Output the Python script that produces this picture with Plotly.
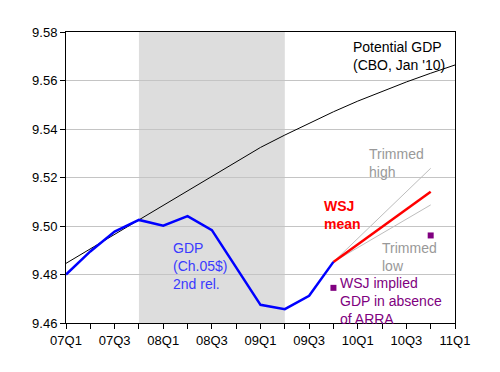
import plotly.graph_objects as go

quarters = ["07Q1","07Q2","07Q3","07Q4","08Q1","08Q2","08Q3","08Q4",
            "09Q1","09Q2","09Q3","09Q4","10Q1","10Q2","10Q3","10Q4","11Q1"]
tick_labels = ["07Q1","07Q3","08Q1","08Q3","09Q1","09Q3","10Q1","10Q3","11Q1"]

potential_gdp = [9.4846, 9.4906, 9.4966, 9.5026, 9.5086, 9.5146, 9.5206, 9.5266,
                 9.5324, 9.5375, 9.5424, 9.5471, 9.5515, 9.5555, 9.5594, 9.5630, 9.5664]
gdp = [9.4800, 9.4895, 9.4977, 9.5025, 9.5001, 9.5041, 9.4983, 9.4828,
       9.4675, 9.4657, 9.4712, 9.4852]
fc_quarters = ["09Q4","10Q1","10Q2","10Q3","10Q4"]
wsj_mean = [9.4852, 9.4924, 9.4996, 9.5069, 9.5141]
trim_high = [9.4852, 9.4949, 9.5045, 9.5142, 9.5238]
trim_low = [9.4852, 9.4911, 9.4970, 9.5028, 9.5087]
noarra_quarters = ["09Q4","10Q4"]
wsj_noarra = [9.4745, 9.4961]
recession = ["07Q4","09Q2"]

idx = {q: i for i, q in enumerate(quarters)}

fig = go.Figure()
fig.add_trace(go.Scatter(x=[idx[q] for q in quarters], y=potential_gdp, mode="lines",
                         line=dict(color="black", width=1)))
fig.add_trace(go.Scatter(x=[idx[q] for q in fc_quarters], y=trim_high, mode="lines",
                         line=dict(color="#bdbdbd", width=1)))
fig.add_trace(go.Scatter(x=[idx[q] for q in fc_quarters], y=trim_low, mode="lines",
                         line=dict(color="#bdbdbd", width=1)))
fig.add_trace(go.Scatter(x=[idx[q] for q in fc_quarters], y=wsj_mean, mode="lines",
                         line=dict(color="#ff0000", width=2.5)))
fig.add_trace(go.Scatter(x=[idx[q] for q in quarters[:len(gdp)]], y=gdp, mode="lines",
                         line=dict(color="#0000ff", width=2.5)))
fig.add_trace(go.Scatter(x=[idx[q] for q in noarra_quarters], y=wsj_noarra, mode="markers",
                         marker=dict(color="#800080", size=6, symbol="square")))

fig.add_shape(type="rect", xref="x", yref="paper", x0=idx[recession[0]], x1=idx[recession[1]],
              y0=0, y1=1, fillcolor="#dddddd", line=dict(width=0), layer="below")

ann_font = "Liberation Sans, Arial, sans-serif"
def ann(text, x, y, color, bold=False):
    t = f"<b>{text}</b>" if bold else text
    fig.add_annotation(text=t, xref="paper", yref="paper", x=x, y=y, xanchor="left",
                       yanchor="top", align="left", showarrow=False,
                       font=dict(family=ann_font, size=14, color=color))

# page body has an 8px margin; plot area target (absolute px): x 66..455, y 32..323
OFF = 8
AL, AR, AT, AB = 66, 455, 32, 323
W, H = 500 - OFF, 372 - OFF
L, T = AL - OFF, AT - OFF
R, B = W - (AR - OFF), H - (AB - OFF)
def px(xp): return (xp - AL) / (AR - AL)
def py(yp): return 1 - (yp - AT) / (AB - AT)

ann("Potential GDP<br>(CBO, Jan '10)", px(351), py(37), "black")
ann("Trimmed<br>high", px(367), py(144), "#999999")
ann("WSJ<br>mean", px(322), py(196), "#ff0000", bold=True)
ann("Trimmed<br>low", px(380), py(238), "#999999")
ann("WSJ implied<br>GDP in absence<br>of ARRA", px(338), py(273), "#800080")
ann("GDP<br>(Ch.05$)<br>2nd rel.", px(171), py(238), "#3a3aff")

fig.update_layout(
    width=W, height=H, margin=dict(l=L, r=R, t=T, b=B, autoexpand=False),
    paper_bgcolor="white", plot_bgcolor="white", showlegend=False,
    font=dict(family=ann_font, size=13, color="black"),
)
fig.update_xaxes(range=[0, 16], tickvals=[idx[q] for q in tick_labels], ticktext=tick_labels,
                 ticks="outside", ticklen=5, tickcolor="black", showgrid=False,
                 showline=True, linecolor="black", linewidth=1, mirror=True, zeroline=False,
                 minor=dict(dtick=1, ticks="outside", ticklen=5, tickcolor="black", showgrid=False),
                 tickfont=dict(size=13, color="black"))
fig.update_yaxes(range=[9.46, 9.58], dtick=0.02, tickformat=".2f", ticks="outside", ticklen=5,
                 tickcolor="black", showgrid=True, gridcolor="#c4c4c4", gridwidth=1,
                 showline=True, linecolor="black", linewidth=1, mirror=True, zeroline=False,
                 tickfont=dict(size=13, color="black"))

fig.write_html("out.html")
